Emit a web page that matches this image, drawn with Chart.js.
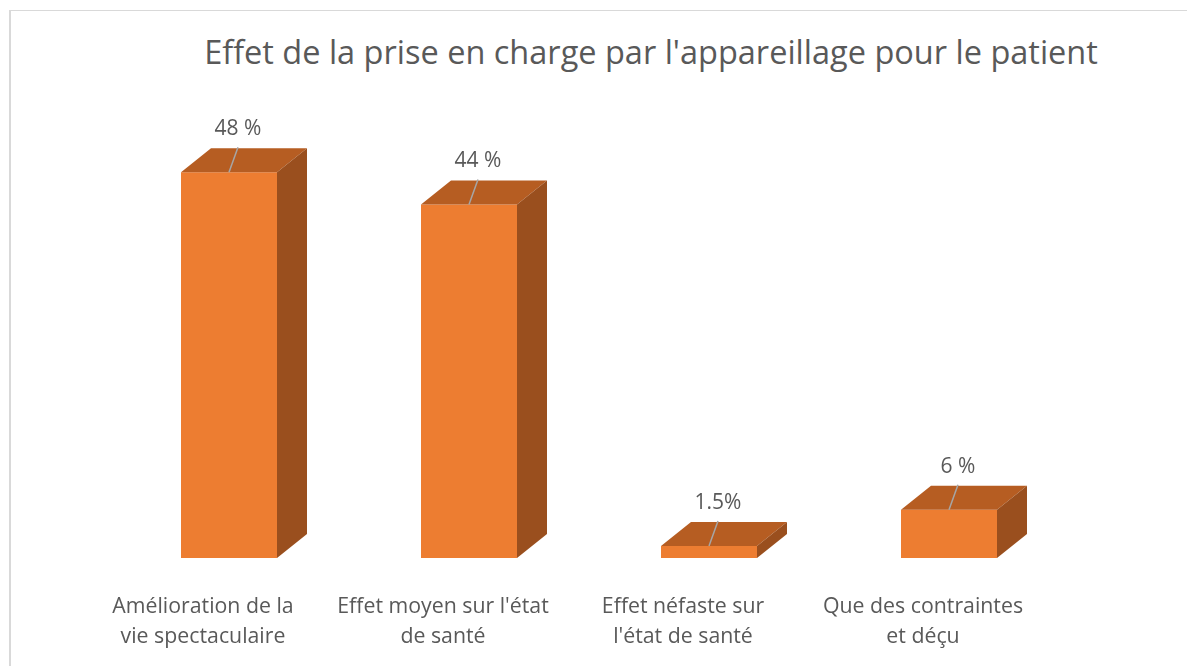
<!DOCTYPE html>
<html>
<head>
<meta charset="utf-8">
<script src="https://cdn.jsdelivr.net/npm/chart.js@4.4.1/dist/chart.umd.min.js"></script>
<style>
  html, body { margin:0; padding:0; background:#fff; width:1187px; height:666px; overflow:hidden; }
  #frame { position:absolute; left:9px; top:10px; width:1200px; height:700px;
           border-left:2px solid #d9d9d9; border-top:1px solid #d9d9d9; }
  #title { position:absolute; left:0; top:36px; width:1302px; text-align:center;
           font-family:"Open Sans", sans-serif; font-size:32.5px; line-height:1; color:#595959; white-space:nowrap; }
  #chart { position:absolute; left:0; top:0; }
</style>
</head>
<body>
<div id="frame"></div>
<div id="title">Effet de la prise en charge par l'appareillage pour le patient</div>
<canvas id="chart" width="1187" height="666"></canvas>
<script>
// ============ Data ============
const categories = [
  ["Amélioration de la", "vie spectaculaire"],
  ["Effet moyen sur l'état", "de santé"],
  ["Effet néfaste sur", "l'état de santé"],
  ["Que des contraintes", "et déçu"]
];
const values = [48, 44, 1.5, 6];
const valueLabels = ["48 %", "44 %", "1.5%", "6 %"];

// ============ Style ============
const FRONT = "#ED7D31", TOP = "#B65D22", SIDE = "#9A4F1E";
const TEXT = "#595959", LEADER = "#A6A6A6";
const DX = 30, DY = 24;   // fake depth of the 3D boxes
const FONT = "'Open Sans', sans-serif";

// top + side faces, drawn from each bar element
const bar3d = {
  id: "bar3d",
  afterDatasetsDraw(chart){
    const ctx = chart.ctx;
    chart.getDatasetMeta(0).data.forEach(bar=>{
      const { x, y, base, width } = bar.getProps(["x","y","base","width"], true);
      const l = x - width/2, r = x + width/2;
      ctx.save();
      ctx.fillStyle = TOP;
      ctx.beginPath();
      ctx.moveTo(l, y); ctx.lineTo(l+DX, y-DY); ctx.lineTo(r+DX, y-DY); ctx.lineTo(r, y);
      ctx.closePath(); ctx.fill();
      ctx.fillStyle = SIDE;
      ctx.beginPath();
      ctx.moveTo(r, y); ctx.lineTo(r+DX, y-DY); ctx.lineTo(r+DX, base-DY); ctx.lineTo(r, base);
      ctx.closePath(); ctx.fill();
      ctx.restore();
    });
  }
};

// value labels with leader lines
const valueTags = {
  id: "valueTags",
  afterDraw(chart){
    const ctx = chart.ctx;
    chart.getDatasetMeta(0).data.forEach((bar,i)=>{
      const { x, y } = bar.getProps(["x","y"], true);
      ctx.save();
      ctx.strokeStyle = LEADER; ctx.lineWidth = 1.5;
      ctx.beginPath(); ctx.moveTo(x, y); ctx.lineTo(x+9, y-DY-1); ctx.stroke();
      ctx.fillStyle = TEXT;
      ctx.font = "21px " + FONT;
      ctx.textAlign = "center"; ctx.textBaseline = "middle";
      ctx.fillText(valueLabels[i], x+9, y-DY-19);
      ctx.restore();
    });
  }
};

new Chart(document.getElementById("chart"), {
  type: "bar",
  data: {
    labels: categories,
    datasets: [{
      data: values,
      backgroundColor: FRONT,
      borderWidth: 0,
      categoryPercentage: 1,
      barPercentage: 0.4
    }]
  },
  options: {
    responsive: false,
    animation: false,
    layout: { padding: { left: 109, right: 118, top: 116, bottom: 0 } },
    plugins: { legend: { display: false }, tooltip: { enabled: false }, title: { display: false } },
    scales: {
      x: {
        grid: { display: false, drawTicks: false },
        border: { display: false },
        ticks: {
          color: TEXT,
          font: { family: FONT, size: 21.3, lineHeight: 1.4 },
          padding: 34,
          labelOffset: -26,
          maxRotation: 0,
          autoSkip: false
        },
        afterFit(scale){ scale.height = 108; }
      },
      y: { display: false, min: 0, max: 55 }
    }
  },
  plugins: [bar3d, valueTags]
});
</script>
</body>
</html>
